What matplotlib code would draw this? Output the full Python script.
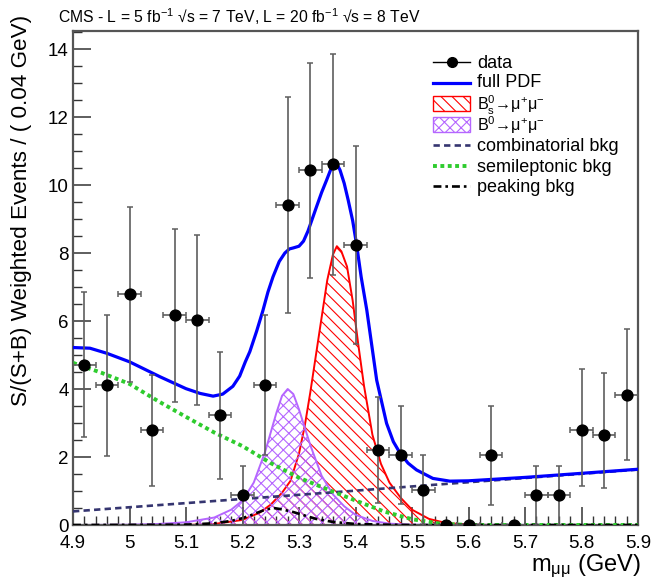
import matplotlib
matplotlib.use("Agg")
import matplotlib.pyplot as plt
from matplotlib.lines import Line2D
from matplotlib.patches import Rectangle
from matplotlib.ticker import MultipleLocator, FuncFormatter

plt.rcParams['font.family'] = ['Liberation Sans', 'DejaVu Sans']
plt.rcParams['mathtext.fontset'] = 'custom'
plt.rcParams['mathtext.rm'] = 'Liberation Sans'
plt.rcParams['mathtext.it'] = 'Liberation Sans:italic'
plt.rcParams['mathtext.bf'] = 'Liberation Sans:bold'
plt.rcParams['hatch.linewidth'] = 0.8

# ---------------- data ----------------
bin_centers = [4.92, 4.96, 5.00, 5.04, 5.08, 5.12, 5.16, 5.20, 5.24, 5.28,
               5.32, 5.36, 5.40, 5.44, 5.48, 5.52, 5.56, 5.60, 5.64, 5.68,
               5.72, 5.76, 5.80, 5.84, 5.88]
data_y = [4.72, 4.12, 6.78, 2.78, 6.18, 6.03, 3.25, 0.87, 4.13, 9.42,
          10.43, 10.62, 8.24, 2.21, 2.07, 1.04, 0.0, 0.0, 2.07, 0.0,
          0.87, 0.87, 2.80, 2.65, 3.83]
data_lo = [2.58, 2.04, 4.22, 1.16, 3.63, 3.53, 1.36, 0.0, 2.07, 6.25,
           7.26, 7.36, 5.31, 0.64, 0.62, 0.0, 0.0, 0.0, 0.60, 0.0,
           0.0, 0.0, 1.16, 1.10, 1.91]
data_hi = [6.86, 6.18, 9.34, 4.42, 8.70, 8.53, 5.10, 1.74, 6.18, 12.60,
           13.60, 13.85, 11.15, 3.76, 3.50, 2.06, 0.0, 0.0, 3.50, 0.0,
           1.74, 1.74, 4.60, 4.48, 5.76]
bin_half_width = 0.02

# full PDF
pdf_x = [4.90, 4.93, 4.96, 5.00, 5.054, 5.10, 5.125, 5.148, 5.165, 5.183, 5.195,
         5.205, 5.213, 5.225, 5.236, 5.245, 5.254, 5.265, 5.275, 5.283, 5.29,
         5.30, 5.308, 5.316, 5.323, 5.331, 5.34, 5.349, 5.356, 5.361, 5.367,
         5.3726, 5.38, 5.387, 5.395, 5.402, 5.41, 5.42, 5.4375, 5.455, 5.467,
         5.479, 5.493, 5.508, 5.537, 5.567, 5.60, 5.70, 5.80, 5.90]
pdf_y = [5.22, 5.20, 5.05, 4.80, 4.36, 4.01, 3.87, 3.79, 3.85, 4.08, 4.38,
         4.80, 5.10, 5.70, 6.30, 6.85, 7.30, 7.75, 8.00, 8.12, 8.15,
         8.20, 8.35, 8.65, 8.98, 9.36, 9.78, 10.15, 10.45, 10.59, 10.62,
         10.44, 10.05, 9.56, 8.95, 8.24, 7.30, 6.32, 4.26, 2.99, 2.45,
         2.11, 1.82, 1.62, 1.37, 1.29, 1.30, 1.40, 1.52, 1.64]

# Bs -> mu mu
bs_x = [4.90, 5.10, 5.15, 5.20, 5.23, 5.25, 5.27, 5.285, 5.30, 5.31, 5.32, 5.33,
        5.34, 5.35, 5.36, 5.367, 5.375, 5.385, 5.395, 5.405, 5.415, 5.43,
        5.445, 5.46, 5.48, 5.50, 5.53, 5.56, 5.60, 5.65, 5.90]
bs_y = [0.0, 0.0, 0.03, 0.15, 0.36, 0.60, 0.95, 1.30, 2.10, 2.90, 3.90, 5.00,
        6.10, 7.20, 7.95, 8.20, 8.05, 7.60, 6.60, 5.30, 4.10, 2.65,
        1.80, 1.25, 0.80, 0.45, 0.18, 0.06, 0.01, 0.0, 0.0]

# B0 -> mu mu
b0_x = [4.90, 5.00, 5.05, 5.10, 5.15, 5.18, 5.20, 5.22, 5.24, 5.26, 5.27, 5.28,
        5.29, 5.30, 5.32, 5.34, 5.36, 5.38, 5.40, 5.43, 5.46, 5.50, 5.90]
b0_y = [0.0, 0.01, 0.03, 0.08, 0.22, 0.45, 0.72, 1.25, 2.15, 3.30, 3.80, 4.00,
        3.85, 3.40, 2.35, 1.45, 0.90, 0.55, 0.30, 0.12, 0.04, 0.01, 0.0]

# combinatorial background
comb_x = [4.90, 5.40, 5.90]
comb_y = [0.40, 1.01, 1.63]

# semileptonic background
semi_x = [4.90, 4.95, 5.00, 5.05, 5.10, 5.15, 5.20, 5.25, 5.30, 5.35, 5.40,
          5.45, 5.50, 5.55, 5.60, 5.90]
semi_y = [4.77, 4.48, 4.15, 3.65, 3.18, 2.72, 2.32, 1.82, 1.39, 1.05, 0.72,
          0.40, 0.17, 0.04, 0.0, 0.0]

# peaking background
peak_x = [4.90, 5.10, 5.15, 5.18, 5.20, 5.22, 5.24, 5.255, 5.27, 5.29, 5.31,
          5.33, 5.36, 5.40, 5.45, 5.50, 5.90]
peak_y = [0.0, 0.01, 0.05, 0.12, 0.20, 0.32, 0.45, 0.50, 0.46, 0.38, 0.28,
          0.18, 0.09, 0.03, 0.01, 0.0, 0.0]

legend_labels = ["data", "full PDF",
                 r"B$^{0}_{\mathrm{s}}$→μ$^{+}$μ$^{-}$",
                 r"B$^{0}$→μ$^{+}$μ$^{-}$",
                 "combinatorial bkg", "semileptonic bkg", "peaking bkg"]

title_text = r"CMS - L = 5 fb$^{-1}$ √s = 7 TeV, L = 20 fb$^{-1}$ √s = 8 TeV"
ylabel_text = "S/(S+B) Weighted Events / ( 0.04 GeV)"
xlabel_text = r"m$_{\mathrm{μμ}}$ (GeV)"

# ---------------- styles ----------------
c_blue = '#0000ff'
c_red = '#ff0000'
c_purple = '#b566ff'
c_comb = '#353570'
c_semi = '#2ecc2e'
W, H = 652.0, 580.0

fig = plt.figure(figsize=(6.52, 5.8), dpi=100)
ax = fig.add_axes([73 / W, 1 - 525 / H, (638 - 73) / W, (525 - 31) / H])

ax.fill_between(bs_x, bs_y, 0, facecolor='none', edgecolor=c_red,
                hatch='\\\\\\', linewidth=0, zorder=2)
ax.plot(bs_x, bs_y, color=c_red, lw=1.4, zorder=2.1)
ax.fill_between(b0_x, b0_y, 0, facecolor='none', edgecolor=c_purple,
                hatch='xxx', linewidth=0, zorder=2.2)
ax.plot(b0_x, b0_y, color=c_purple, lw=1.4, zorder=2.3)

ax.plot(comb_x, comb_y, color=c_comb, lw=1.9, dashes=(2.4, 1.6), zorder=3)
ax.plot(semi_x, semi_y, color=c_semi, lw=2.8, dashes=(1.0, 0.9), zorder=3)
ax.plot(peak_x, peak_y, color='black', lw=1.9, dashes=(3.0, 1.5, 1.0, 1.5), zorder=3)
ax.plot(pdf_x, pdf_y, color=c_blue, lw=2.3, zorder=4, solid_joinstyle='round')

yerr_lo = [y - l for y, l in zip(data_y, data_lo)]
yerr_hi = [h - y for y, h in zip(data_y, data_hi)]
ax.errorbar(bin_centers, data_y, yerr=[yerr_lo, yerr_hi],
            xerr=bin_half_width, fmt='o', color='black', ms=7.8,
            ecolor='#5e5e5e', elinewidth=1.2, capsize=2.2, capthick=1.1,
            zorder=5, clip_on=True)

ax.set_xlim(4.9, 5.9)
ax.set_ylim(0, 14.53)
ax.xaxis.set_major_locator(MultipleLocator(0.1))
ax.xaxis.set_minor_locator(MultipleLocator(0.02))
ax.yaxis.set_major_locator(MultipleLocator(2))
ax.yaxis.set_minor_locator(MultipleLocator(0.5))
ax.xaxis.set_major_formatter(FuncFormatter(lambda v, p: "%g" % round(v, 2)))
ax.tick_params(which='both', direction='in', top=False, right=False,
               color='#333333', labelsize=13.5)
ax.tick_params(which='major', length=13, width=1.1)
ax.tick_params(which='minor', length=6.5, width=1.0)
ax.tick_params(axis='x', pad=7)
ax.tick_params(axis='y', pad=3)
for s in ax.spines.values():
    s.set_color('#555555')
    s.set_linewidth(1.6)

# ---------------- legend (manual rows, uniform spacing) ----------------
leg_x0, leg_x1, leg_tx = 433, 470, 477
row_y = [62 + 20.7 * i for i in range(len(legend_labels))]
row_shift = [0, -1.5, 0.8, 1.2, 0.5, 0, 0]
row_size = [13, 13, 11.6, 11.6, 13, 13, 13]


def fx(px):
    return px / W


def fy(py):
    return 1 - py / H


def add_line(y, **kw):
    fig.add_artist(Line2D([fx(leg_x0), fx(leg_x1)], [fy(y), fy(y)],
                          transform=fig.transFigure, **kw))


add_line(row_y[0], color='black', lw=1.0)
fig.add_artist(Line2D([fx((leg_x0 + leg_x1) / 2)], [fy(row_y[0])], marker='o',
                      ms=7, color='black', transform=fig.transFigure))
add_line(row_y[1], color=c_blue, lw=2.3)
for i, (col, hat) in zip([2, 3], [(c_red, '\\\\\\'), (c_purple, 'xxx')]):
    fig.add_artist(Rectangle((fx(leg_x0), fy(row_y[i] + 7.5)),
                             (leg_x1 - leg_x0) / W, 15 / H,
                             facecolor='white', edgecolor=col, hatch=hat,
                             lw=1.0, transform=fig.transFigure))
add_line(row_y[4], color=c_comb, lw=1.9, dashes=(2.4, 1.6))
add_line(row_y[5], color=c_semi, lw=2.8, dashes=(1.0, 0.9))
add_line(row_y[6], color='black', lw=1.9, dashes=(3.0, 1.5, 1.0, 1.5))
for y, dy, fs, lab in zip(row_y, row_shift, row_size, legend_labels):
    fig.text(fx(leg_tx), fy(y + 6 + dy), lab, ha='left', va='baseline', fontsize=fs)

fig.text(58 / W, 1 - 17 / H, title_text, ha='left', va='center', fontsize=11.3)
fig.text(22 / W, 1 - 210 / H, ylabel_text, ha='center', va='center',
         rotation=90, fontsize=16.2)
fig.text(641 / W, 1 - 566 / H, xlabel_text, ha='right', va='center', fontsize=17)

fig.savefig("out.png", dpi=100)
